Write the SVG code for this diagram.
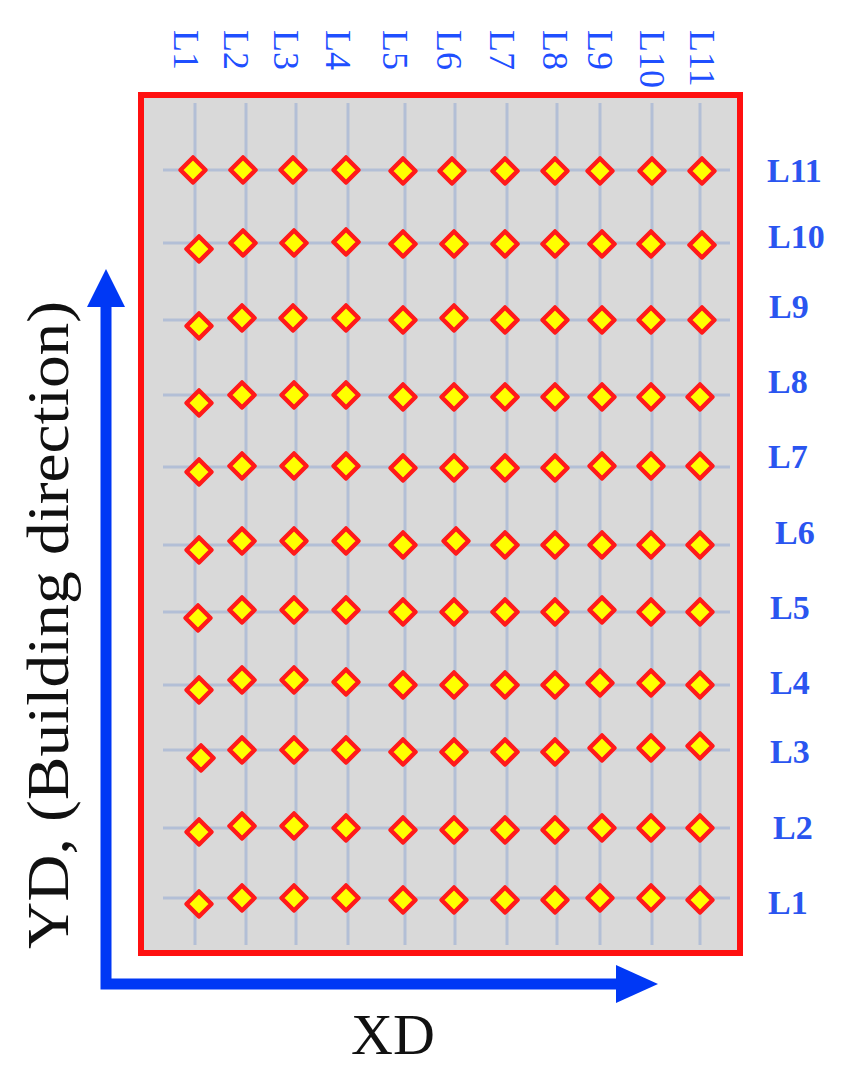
<svg xmlns="http://www.w3.org/2000/svg" xmlns:xlink="http://www.w3.org/1999/xlink" width="846" height="1076" viewBox="0 0 846 1076">
<style>
.grid{stroke:#b3bfd6;stroke-width:3;fill:none}
.top{font-family:"Liberation Serif",serif;font-size:36px;fill:#1f4fff}
.right{font-family:"Liberation Serif",serif;font-size:34px;font-weight:bold;fill:#2a55f0}
.axis{font-family:"Liberation Serif",serif;fill:#111}
</style>
<defs>
<polygon id="d" points="0,-12.5 12.5,0 0,12.5 -12.5,0" fill="#ffff00" stroke="#ff1a1a" stroke-width="4.5" stroke-linejoin="round"/>
</defs>
<rect width="846" height="1076" fill="#fff"/>
<g id="plate">
<rect x="141" y="95" width="599" height="858" fill="#d9d9d9" stroke="#ff1010" stroke-width="6"/>
</g>
<g id="grid" class="grid">
<path d="M195,103V945M246,103V945M296,103V945M348,103V945M405,103V945M455,103V945M507,103V945M557,103V945M600,103V945M652,103V945M700,103V945"/>
<path d="M163,170H730M163,243H730M163,320H730M163,395H730M163,467H730M163,545H730M163,612H730M163,685H730M163,750H730M163,828H730M163,898H730"/>
</g>
<g id="points">
<use href="#d" x="193" y="170"/><use href="#d" x="243" y="170"/><use href="#d" x="293" y="170"/><use href="#d" x="346" y="170"/><use href="#d" x="403" y="171"/><use href="#d" x="452" y="171"/><use href="#d" x="505" y="171"/><use href="#d" x="555" y="171"/><use href="#d" x="600" y="171"/><use href="#d" x="652" y="171"/><use href="#d" x="702" y="171"/>
<use href="#d" x="199" y="249"/><use href="#d" x="243" y="243"/><use href="#d" x="294" y="243"/><use href="#d" x="346" y="242"/><use href="#d" x="403" y="244"/><use href="#d" x="454" y="244"/><use href="#d" x="505" y="244"/><use href="#d" x="555" y="244"/><use href="#d" x="602" y="244"/><use href="#d" x="651" y="244"/><use href="#d" x="702" y="245"/>
<use href="#d" x="199" y="326"/><use href="#d" x="242" y="318"/><use href="#d" x="293" y="318"/><use href="#d" x="346" y="318"/><use href="#d" x="403" y="320"/><use href="#d" x="454" y="318"/><use href="#d" x="505" y="320"/><use href="#d" x="555" y="320"/><use href="#d" x="602" y="320"/><use href="#d" x="651" y="320"/><use href="#d" x="702" y="320"/>
<use href="#d" x="199" y="403"/><use href="#d" x="242" y="395"/><use href="#d" x="294" y="395"/><use href="#d" x="346" y="395"/><use href="#d" x="403" y="397"/><use href="#d" x="454" y="397"/><use href="#d" x="505" y="397"/><use href="#d" x="555" y="397"/><use href="#d" x="602" y="397"/><use href="#d" x="651" y="397"/><use href="#d" x="700" y="397"/>
<use href="#d" x="199" y="472"/><use href="#d" x="242" y="466"/><use href="#d" x="294" y="466"/><use href="#d" x="346" y="466"/><use href="#d" x="403" y="468"/><use href="#d" x="454" y="468"/><use href="#d" x="505" y="468"/><use href="#d" x="555" y="468"/><use href="#d" x="602" y="466"/><use href="#d" x="651" y="466"/><use href="#d" x="700" y="466"/>
<use href="#d" x="199" y="550"/><use href="#d" x="242" y="541"/><use href="#d" x="294" y="541"/><use href="#d" x="346" y="541"/><use href="#d" x="403" y="545"/><use href="#d" x="456" y="541"/><use href="#d" x="505" y="545"/><use href="#d" x="555" y="545"/><use href="#d" x="602" y="545"/><use href="#d" x="651" y="545"/><use href="#d" x="700" y="545"/>
<use href="#d" x="198" y="618"/><use href="#d" x="242" y="610"/><use href="#d" x="294" y="610"/><use href="#d" x="346" y="610"/><use href="#d" x="403" y="612"/><use href="#d" x="454" y="612"/><use href="#d" x="505" y="612"/><use href="#d" x="555" y="612"/><use href="#d" x="602" y="610"/><use href="#d" x="651" y="612"/><use href="#d" x="700" y="612"/>
<use href="#d" x="199" y="690"/><use href="#d" x="242" y="680"/><use href="#d" x="294" y="680"/><use href="#d" x="346" y="682"/><use href="#d" x="403" y="685"/><use href="#d" x="454" y="685"/><use href="#d" x="505" y="685"/><use href="#d" x="555" y="685"/><use href="#d" x="600" y="683"/><use href="#d" x="651" y="683"/><use href="#d" x="700" y="685"/>
<use href="#d" x="201" y="758"/><use href="#d" x="242" y="750"/><use href="#d" x="294" y="750"/><use href="#d" x="346" y="750"/><use href="#d" x="403" y="752"/><use href="#d" x="454" y="752"/><use href="#d" x="505" y="752"/><use href="#d" x="555" y="752"/><use href="#d" x="602" y="748"/><use href="#d" x="651" y="748"/><use href="#d" x="700" y="746"/>
<use href="#d" x="199" y="832"/><use href="#d" x="242" y="826"/><use href="#d" x="294" y="826"/><use href="#d" x="346" y="828"/><use href="#d" x="403" y="830"/><use href="#d" x="454" y="830"/><use href="#d" x="505" y="830"/><use href="#d" x="555" y="830"/><use href="#d" x="602" y="828"/><use href="#d" x="651" y="828"/><use href="#d" x="700" y="828"/>
<use href="#d" x="199" y="904"/><use href="#d" x="242" y="898"/><use href="#d" x="294" y="898"/><use href="#d" x="346" y="898"/><use href="#d" x="403" y="900"/><use href="#d" x="454" y="900"/><use href="#d" x="505" y="900"/><use href="#d" x="555" y="900"/><use href="#d" x="600" y="898"/><use href="#d" x="651" y="898"/><use href="#d" x="700" y="900"/>
</g>
<g id="top-labels" class="top">
<text transform="translate(174,30) rotate(90)">L1</text>
<text transform="translate(224,30) rotate(90)">L2</text>
<text transform="translate(274,30) rotate(90)">L3</text>
<text transform="translate(326,30) rotate(90)">L4</text>
<text transform="translate(383,30) rotate(90)">L5</text>
<text transform="translate(437,30) rotate(90)">L6</text>
<text transform="translate(490,30) rotate(90)">L7</text>
<text transform="translate(543,30) rotate(90)">L8</text>
<text transform="translate(588,30) rotate(90)">L9</text>
<text transform="translate(640,30) rotate(90)">L10</text>
<text transform="translate(690,30) rotate(90)">L11</text>
</g>
<g id="right-labels" class="right">
<text x="767" y="182">L11</text>
<text x="768" y="248">L10</text>
<text x="769" y="318">L9</text>
<text x="768" y="393">L8</text>
<text x="768" y="468">L7</text>
<text x="775" y="544">L6</text>
<text x="770" y="619">L5</text>
<text x="770" y="694">L4</text>
<text x="770" y="763">L3</text>
<text x="773" y="839">L2</text>
<text x="768" y="914">L1</text>
</g>
<g id="axes">
<path d="M106,984V303M100.5,984H620" fill="none" stroke="#0038f5" stroke-width="11"/>
<polygon points="106,269 87,307 125,307" fill="#0038f5"/>
<polygon points="658,984 616,965 616,1003" fill="#0038f5"/>
<text class="axis" font-size="58" x="393" y="1054" text-anchor="middle">XD</text>
<text class="axis" font-size="60" transform="translate(68,625) rotate(-90)" text-anchor="middle" textLength="648" lengthAdjust="spacingAndGlyphs">YD, (Building direction)</text>
</g>
</svg>
